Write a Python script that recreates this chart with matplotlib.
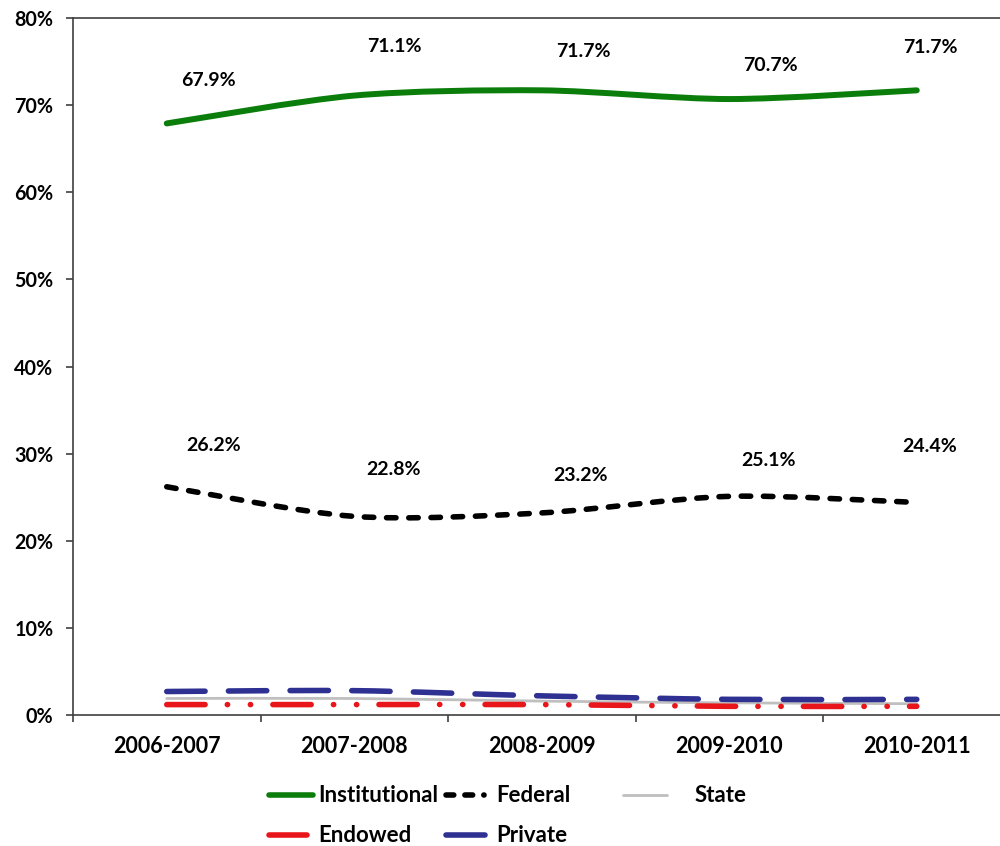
import numpy as np
import matplotlib.pyplot as plt
from matplotlib.path import Path
from matplotlib.patches import PathPatch
from matplotlib.lines import Line2D

plt.rcParams['font.family'] = ['Lato', 'DejaVu Sans']
plt.rcParams['font.weight'] = 'bold'

years = ['2006-2007', '2007-2008', '2008-2009', '2009-2010', '2010-2011']
institutional = [67.9, 71.1, 71.7, 70.7, 71.7]
federal = [26.2, 22.8, 23.2, 25.1, 24.4]
state = [1.9, 1.9, 1.6, 1.4, 1.3]
endowed = [1.2, 1.2, 1.2, 1.0, 1.0]
private = [2.7, 2.8, 2.2, 1.8, 1.8]

# label offsets (points) for the printed values
inst_off = [(30, 31), (29, 35), (30, 28), (30, 24), (10, 31)]
fed_off = [(34, 30), (28, 34), (28, 27), (28, 26), (9, 40)]


def smooth_path(xs, ys, k=1 / 7):
    # excel-like smoothed line as cubic bezier segments
    p = np.column_stack([xs, ys]).astype(float)
    ext = np.vstack([p[0], p, p[-1]])
    verts = [p[0]]
    codes = [Path.MOVETO]
    for i in range(len(p) - 1):
        c1 = ext[i + 1] + (ext[i + 2] - ext[i]) * k
        c2 = ext[i + 2] - (ext[i + 3] - ext[i + 1]) * k
        verts += [c1, c2, ext[i + 2]]
        codes += [Path.CURVE4] * 3
    return Path(verts, codes)


fig = plt.figure(figsize=(10, 8.46), dpi=100)
ax = fig.add_axes([0.073, 0.1548, 0.9375, 0.8239])

x = np.arange(len(years))
series = [
    (state, '#BFBFBF', 2.0, '-'),
    (endowed, '#E8161B', 4.0, (0, (6.9, 4.0, 0.05, 4.1, 0.05, 4.0))),
    (private, '#2E3192', 4.0, (0, (6.9, 4.2))),
    (federal, 'black', 4.0, (0, (1.7, 2.3))),
    (institutional, '#0A7D0A', 4.3, '-'),
]
for vals, col, lw, ls in series:
    patch = PathPatch(smooth_path(x, vals), fill=False, edgecolor=col,
                      linewidth=lw, linestyle=ls, capstyle='round',
                      joinstyle='round')
    ax.add_patch(patch)

for xi, v, off in zip(x, institutional, inst_off):
    ax.annotate(f'{v:.1f}%', (xi, v), xytext=off, textcoords='offset points',
                ha='center', va='center', fontsize=14, fontweight='bold')
for xi, v, off in zip(x, federal, fed_off):
    ax.annotate(f'{v:.1f}%', (xi, v), xytext=off, textcoords='offset points',
                ha='center', va='center', fontsize=14, fontweight='bold')

ax.set_xlim(-0.5, len(years) - 0.5)
ax.set_ylim(0, 80)
ax.set_xticks(np.arange(len(years)) - 0.5)
ax.set_xticklabels([])
ax.set_xticks(x, minor=True)
ax.set_xticklabels(years, minor=True, fontsize=15.5, fontweight='bold')
ax.tick_params(axis='x', which='major', length=5, width=1.2, color='#404040')
ax.tick_params(axis='x', which='minor', length=0, pad=15)
ax.set_yticks(np.arange(0, 81, 10))
ax.set_yticklabels([f'{v}%' for v in range(0, 81, 10)], fontsize=14.2,
                   fontweight='bold')
ax.tick_params(axis='y', length=5, width=1.2, color='#404040', pad=9)
for s in ['left', 'bottom', 'top']:
    ax.spines[s].set_linewidth(1.2)
    ax.spines[s].set_color('#404040')
ax.spines['right'].set_visible(False)

# legend, drawn by hand to mimic the excel layout
legend_items = [
    ('Institutional', '#0A7D0A', 4.0, '-', 0.269, 0.313, 0.318, 795),
    ('Federal', 'black', 4.0, (0, (1.4, 2.0, 1.4, 2.0, 0.05, 1.5)), 0.446, 0.492, 0.496, 795),
    ('State', '#BFBFBF', 2.0, '-', 0.623, 0.667, 0.695, 795),
    ('Endowed', '#E8161B', 4.0, '-', 0.269, 0.307, 0.318, 835),
    ('Private', '#2E3192', 4.0, '-', 0.446, 0.485, 0.496, 835),
]
for name, col, lw, ls, x0, x1, xt, ypix in legend_items:
    yf = 1 - ypix / 846
    fig.add_artist(Line2D([x0, x1], [yf, yf], color=col, lw=lw, ls=ls,
                          solid_capstyle='round', dash_capstyle='round',
                          transform=fig.transFigure))
    fig.text(xt, yf, name, ha='left', va='center', fontsize=16,
             fontweight='bold')

fig.savefig('out.png', dpi=100)
